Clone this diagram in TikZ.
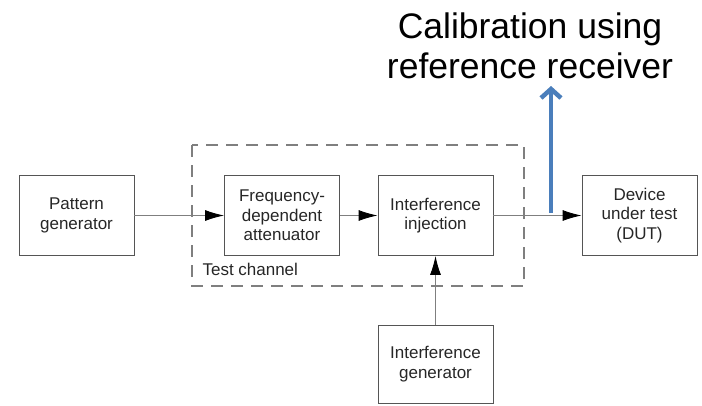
\documentclass[tikz,border=0pt]{standalone}
\usepackage{fontspec}
\setmainfont{Liberation Sans}
\usetikzlibrary{positioning, arrows.meta}
\definecolor{linegray}{HTML}{7F7F7F}
\definecolor{boxgray}{HTML}{555555}
\definecolor{calblue}{HTML}{4A7EBB}

\begin{document}
\begin{tikzpicture}[x=1pt, y=-1pt, on grid,
    block/.style={draw=boxgray, line width=0.9pt, minimum width=115pt, minimum height=80pt,
      align=center, text=black!85, font=\fontsize{17}{19.5}\selectfont},
    sig/.style={draw=linegray, line width=0.9pt, -{Latex[length=19pt, width=11pt, color=black]}}]
  \useasboundingbox (0,0) rectangle (702,405);

  \node[block] (pg) at (76.5,215.5) {Pattern\\generator};
  \node[block] (fda) [right=205.5pt of pg] {Frequency-\\dependent\\attenuator};
  \node[block] (inj) [right=153.5pt of fda] {Interference\\injection};
  \node[block] (dut) [right=204pt of inj] {Device\\under test\\(DUT)};
  \node[block, minimum height=78pt] (ig) [below=148.5pt of inj] {Interference\\generator};

  % test channel frame
  \draw[linegray, line width=1.1pt, dash pattern=on 12pt off 8pt] (192,145) rectangle (524,286);
  \node[anchor=base west, text=black!85, font=\fontsize{17}{19.5}\selectfont] (tc) at (199,275) {Test channel};

  \path[sig] (pg) -- (fda);
  \path[sig] (fda) -- (inj);
  \path[sig] (inj) -- (dut);
  \path[sig] (ig) -- (inj);

  % calibration tap
  \coordinate (tap) at (551,213);
  \coordinate (calend) at (551,86);
  \draw[calblue, line width=4.5pt, -{Straight Barb[length=9pt, width=20pt]}] (tap) -- (calend);
  \node[align=center, font=\fontsize{35.5}{40}\selectfont] (cal) at (530,46) {Calibration using\\reference receiver};
\end{tikzpicture}
\end{document}
